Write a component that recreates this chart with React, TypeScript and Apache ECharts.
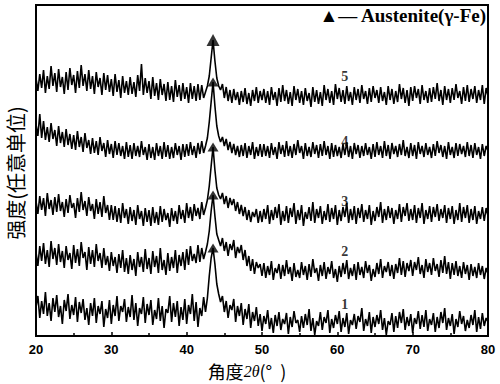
import React, { useEffect, useRef } from "react";
import * as echarts from "echarts";

// 2θ sampling grid (degrees), 0.25° step from 20 to 80
const angles: number[] = Array.from({ length: 241 }, (_, k) => 20 + k * 0.25);

// intensity (arbitrary units, patterns offset vertically)
const trace1 = [
  29, 40, 18, 35, 22, 44, 20, 33, 15, 38,
  24, 41, 19, 30, 12, 36, 25, 42, 17, 31,
  21, 39, 14, 34, 23, 37, 16, 28, 11, 33,
  20, 38, 13, 30, 22, 35, 9, 27, 18, 36,
  12, 31, 20, 40, 15, 30, 24, 37, 14, 29,
  19, 41, 16, 33, 10, 28, 22, 39, 13, 32,
  21, 36, 11, 26, 17, 38, 15, 30, 8, 27,
  23, 40, 14, 33, 19, 35, 10, 29, 16, 37,
  12, 31, 22, 42, 15, 34, 9, 28, 20, 39,
  24, 38, 60, 78, 88, 72, 52, 42, 34, 40,
  24, 35, 18, 31, 26, 37, 14, 30, 20, 33,
  11, 27, 17, 32, 8, 24, 15, 29, 10, 22,
  5, 20, 12, 26, 7, 18, 3, 21, 10, 24,
  6, 17, 12, 23, 2, 19, 9, 25, 13, 16,
  4, 20, 8, 22, 11, 27, 5, 18, 1, 15,
  10, 24, 6, 19, 13, 26, 3, 17, 8, 21,
  12, 25, 4, 18, 9, 23, 2, 16, 11, 22,
  7, 20, 14, 28, 5, 17, 10, 24, 3, 19,
  9, 21, 12, 26, 6, 18, 1, 15, 11, 23,
  4, 20, 8, 24, 13, 27, 6, 19, 10, 22,
  3, 18, 12, 25, 7, 21, 9, 26, 5, 17,
  11, 23, 4, 19, 8, 24, 13, 28, 6, 18,
  10, 22, 2, 17, 9, 25, 12, 20, 5, 16,
  8, 21, 11, 26, 4, 19, 7, 23, 10, 18,
  14,
];
const trace2 = [
  84, 70, 90, 75, 93, 72, 86, 69, 95, 77,
  88, 71, 92, 74, 85, 68, 90, 76, 83, 67,
  91, 73, 87, 70, 94, 78, 84, 66, 89, 72,
  86, 69, 92, 75, 83, 68, 88, 71, 80, 65,
  84, 70, 79, 63, 82, 68, 86, 64, 78, 62,
  81, 66, 77, 60, 84, 69, 79, 64, 87, 67,
  78, 62, 85, 69, 80, 63, 88, 66, 76, 61,
  83, 65, 79, 68, 86, 63, 81, 70, 84, 66,
  87, 71, 90, 75, 82, 73, 91, 74, 88, 77,
  84, 92, 105, 125, 141, 120, 102, 96, 90, 98,
  85, 94, 80, 92, 86, 96, 78, 89, 83, 91,
  76, 86, 70, 80, 65, 77, 62, 74, 68, 72,
  60, 73, 58, 70, 61, 75, 56, 68, 63, 72,
  57, 71, 60, 76, 62, 69, 55, 73, 59, 66,
  58, 74, 61, 70, 56, 72, 59, 77, 63, 68,
  55, 71, 60, 74, 57, 69, 62, 75, 58, 67,
  54, 70, 59, 73, 62, 76, 57, 68, 60, 72,
  56, 74, 61, 69, 58, 75, 63, 71, 55, 67,
  59, 73, 62, 77, 58, 70, 64, 74, 60, 71,
  57, 72, 63, 78, 61, 75, 59, 73, 65, 76,
  60, 74, 66, 79, 62, 71, 58, 77, 64, 73,
  61, 78, 65, 72, 59, 76, 63, 80, 62, 74,
  57, 73, 61, 75, 60, 70, 58, 74, 62, 71,
  56, 72, 60, 69, 58, 73, 61, 70, 57, 68,
  62,
];
const trace3 = [
  135, 122, 140, 126, 138, 120, 143, 127, 136, 121,
  139, 124, 142, 125, 134, 119, 137, 123, 141, 128,
  133, 118, 138, 124, 144, 126, 135, 120, 139, 125,
  132, 117, 137, 122, 134, 119, 140, 123, 131, 116,
  131, 116, 130, 114, 128, 113, 133, 118, 127, 112,
  129, 115, 126, 111, 131, 117, 125, 110, 128, 114,
  126, 110, 129, 113, 124, 111, 130, 114, 127, 116,
  123, 109, 128, 115, 125, 112, 131, 117, 126, 113,
  133, 118, 129, 115, 132, 120, 128, 117, 134, 121,
  128, 136, 150, 170, 189, 166, 148, 141, 137, 143,
  132, 140, 128, 138, 131, 137, 125, 134, 122, 131,
  120, 129, 116, 126, 114, 124, 119, 127, 113, 125,
  114, 127, 117, 131, 112, 126, 116, 129, 118, 132,
  111, 125, 115, 130, 113, 128, 119, 133, 112, 126,
  116, 131, 110, 124, 117, 129, 115, 134, 113, 127,
  118, 130, 112, 125, 116, 132, 114, 128, 117, 131,
  111, 126, 115, 129, 119, 133, 113, 127, 116, 130,
  112, 128, 118, 132, 114, 126, 117, 131, 111, 125,
  115, 129, 119, 134, 113, 127, 116, 130, 118, 128,
  112, 126, 117, 132, 114, 129, 120, 133, 115, 127,
  116, 131, 113, 128, 118, 133, 112, 126, 117, 130,
  114, 129, 119, 132, 115, 127, 118, 131, 113, 128,
  117, 130, 112, 126, 116, 133, 114, 129, 118, 131,
  113, 127, 116, 130, 112, 125, 117, 129, 115, 128,
  120,
];
const trace4 = [
  212, 200, 222, 198, 215, 196, 209, 194, 213, 197,
  206, 190, 210, 193, 204, 189, 207, 191, 202, 187,
  201, 186, 205, 189, 199, 184, 203, 188, 196, 182,
  198, 183, 195, 181, 199, 185, 193, 179, 196, 182,
  192, 178, 195, 181, 193, 180, 190, 177, 194, 179,
  191, 177, 193, 180, 190, 179, 195, 181, 189, 176,
  192, 178, 189, 176, 193, 180, 190, 177, 194, 179,
  191, 177, 189, 178, 193, 181, 190, 176, 192, 179,
  192, 180, 194, 181, 190, 178, 193, 182, 195, 183,
  190, 198, 214, 234, 254, 230, 210, 200, 194, 199,
  190, 197, 186, 194, 183, 192, 181, 190, 179, 191,
  180, 193, 178, 190, 181, 194, 177, 189, 180, 192,
  179, 192, 180, 190, 178, 193, 181, 189, 177, 194,
  182, 191, 179, 195, 180, 190, 178, 192, 181, 196,
  183, 190, 177, 193, 180, 189, 179, 194, 182, 191,
  178, 192, 180, 195, 181, 190, 177, 193, 179, 191,
  180, 189, 178, 192, 181, 194, 179, 190, 177, 193,
  182, 191, 178, 190, 180, 193, 181, 189, 177, 192,
  179, 194, 181, 190, 178, 195, 180, 191, 177, 193,
  182, 190, 179, 192, 181, 196, 180, 189, 178, 193,
  180, 191, 177, 194, 182, 190, 179, 193, 181, 189,
  178, 192, 180, 195, 183, 191, 179, 190, 177, 194,
  181, 189, 178, 193, 180, 192, 182, 190, 179, 194,
  180, 191, 178, 193, 181, 189, 177, 192, 180, 190,
  185,
];
const trace5 = [
  258, 245, 262, 248, 266, 243, 260, 247, 270, 250,
  263, 244, 267, 249, 259, 242, 264, 246, 268, 251,
  261, 243, 265, 248, 271, 250, 262, 245, 266, 247,
  260, 242, 264, 249, 258, 241, 263, 246, 261, 244,
  257, 240, 262, 244, 256, 238, 260, 243, 255, 241,
  259, 242, 254, 239, 261, 245, 272, 241, 258, 243,
  255, 237, 259, 240, 253, 236, 257, 241, 252, 235,
  254, 236, 250, 234, 256, 239, 251, 235, 253, 237,
  249, 233, 253, 237, 250, 235, 252, 236, 251, 238,
  244, 250, 260, 278, 296, 275, 258, 250, 246, 252,
  238, 249, 235, 246, 233, 247, 236, 244, 231, 245,
  234, 248, 232, 243, 230, 246, 235, 249, 233, 245,
  236, 247, 233, 245, 231, 249, 236, 244, 230, 248,
  234, 251, 235, 246, 232, 244, 230, 250, 236, 247,
  233, 245, 231, 248, 235, 243, 229, 249, 234, 246,
  232, 244, 230, 251, 236, 247, 233, 245, 231, 252,
  237, 248, 234, 246, 232, 250, 235, 244, 231, 249,
  236, 247, 233, 251, 237, 245, 232, 248, 234, 250,
  238, 246, 233, 249, 235, 244, 231, 250, 236, 247,
  232, 245, 234, 252, 237, 248, 233, 246, 230, 249,
  235, 250, 238, 247, 232, 251, 236, 245, 233, 248,
  234, 249, 237, 253, 235, 246, 231, 250, 236, 247,
  233, 248, 236, 252, 238, 245, 232, 249, 235, 251,
  234, 247, 237, 250, 233, 246, 236, 251, 232, 248,
  240,
];

// Austenite peak markers (tips of each pattern)
const peakAngle = 43.5;
const peakTips = [88, 141, 189, 254, 296];

// sample number labels
const sampleNames = ["1", "2", "3", "4", "5"];
const labelAngle = 61;
const labelLevels = [32, 85, 135, 195, 260];

const xTicks = { min: 20, max: 80, interval: 10 };

export default function App() {
  const ref = useRef<HTMLDivElement>(null);
  useEffect(() => {
    if (!ref.current) return;
    const chart = echarts.init(ref.current, null, { renderer: "svg" });
    const traces = [trace1, trace2, trace3, trace4, trace5];
    const lineSeries = traces.map((t, i) => ({
      type: "line",
      name: "trace" + sampleNames[i],
      data: angles.map((a, k) => [a, t[k]]),
      symbol: "none",
      lineStyle: { color: "#000", width: 1.6 },
      silent: true,
    }));
    chart.setOption({
      animation: false,
      backgroundColor: "#fff",
      grid: {
        left: 36,
        right: 12,
        top: 5,
        bottom: 48,
        show: true,
        borderColor: "#000",
        borderWidth: 2,
      },
      xAxis: {
        type: "value",
        min: xTicks.min,
        max: xTicks.max,
        interval: xTicks.interval,
        axisLine: { show: true, lineStyle: { color: "#000", width: 2 } },
        axisTick: { show: true, inside: true, length: 4, lineStyle: { color: "#000", width: 1.5 } },
        minorTick: { show: true, splitNumber: 2, length: 3, lineStyle: { color: "#000", width: 1.5 } },
        splitLine: { show: false },
        axisLabel: {
          color: "#000",
          fontFamily: "Liberation Sans",
          fontWeight: "bold",
          fontSize: 13,
          margin: 7,
        },
      },
      yAxis: {
        type: "value",
        min: 0,
        max: 331,
        show: false,
      },
      series: [
        ...lineSeries,
        {
          type: "scatter",
          data: peakTips.map((v) => [peakAngle, v]),
          symbol: "triangle",
          symbolSize: (v: number[]) => (v[1] === peakTips[4] ? [13, 12] : [11, 9]),
          itemStyle: { color: "#000" },
          z: 5,
        },
        {
          type: "scatter",
          data: labelLevels.map((v) => [labelAngle, v]),
          symbolSize: 0,
          label: {
            show: true,
            position: "inside",
            formatter: (p: any) => sampleNames[p.dataIndex],
            color: "#000",
            fontFamily: "Liberation Serif",
            fontWeight: "bold",
            fontSize: 14,
          },
        },
      ],
      graphic: [
        {
          type: "text",
          x: 486,
          y: 15,
          style: {
            text: "▲— Austenite(γ-Fe)",
            font: 'bold 19px "Liberation Serif"',
            fill: "#000",
            align: "right",
            verticalAlign: "middle",
          },
        },
        {
          type: "text",
          x: 15,
          y: 173,
          rotation: Math.PI / 2,
          style: {
            text: "强度(任意单位)",
            font: '20px "Noto Sans CJK SC"',
            fill: "#000",
            align: "center",
            verticalAlign: "middle",
          },
        },
        {
          type: "text",
          x: 247,
          y: 371,
          style: {
            text: "{a|角度}{b|2θ}{a|(°  )}",
            fill: "#000",
            align: "center",
            verticalAlign: "middle",
            rich: {
              a: { font: '18px "Noto Sans CJK SC"', fill: "#000", lineHeight: 20 },
              b: { font: 'italic 16px "Liberation Serif"', fill: "#000", lineHeight: 20 },
            },
          },
        },
      ],
    });
    return () => chart.dispose();
  }, []);
  return <div ref={ref} style={{ width: 500, height: 384, position: "absolute", left: 0, top: 0 }} />;
}
